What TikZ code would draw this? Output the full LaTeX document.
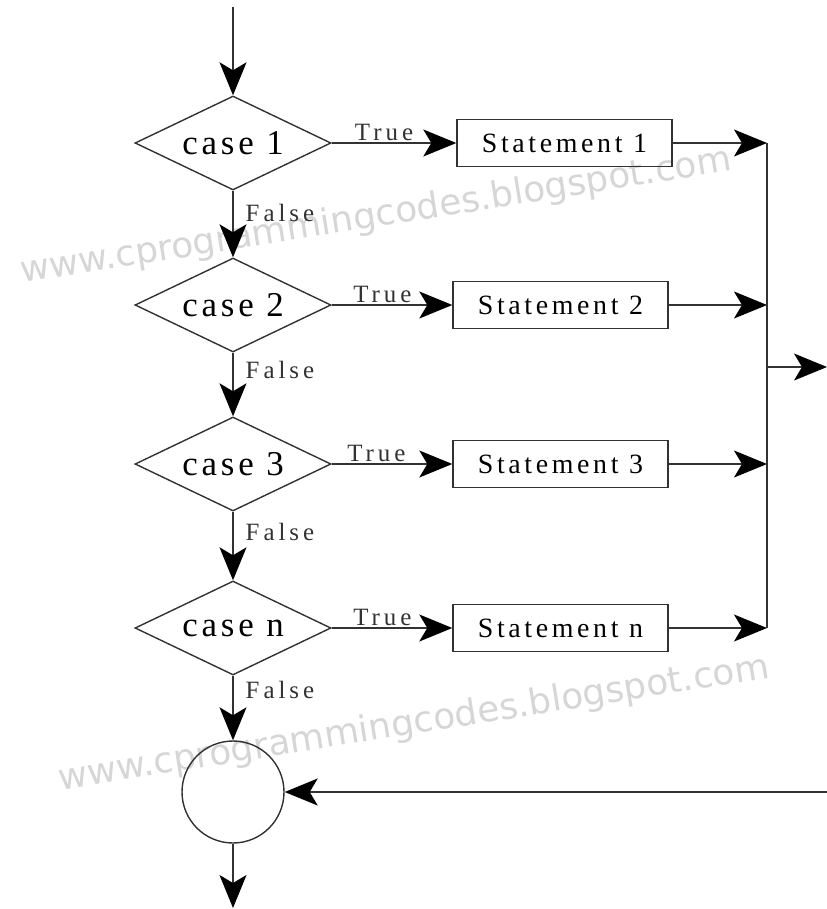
\documentclass[tikz,border=0pt]{standalone}
\usepackage{fontspec}
\setmainfont{Liberation Serif}
\newfontfamily\casefont[LetterSpace=11]{Liberation Serif}
\newfontfamily\stmtfont[LetterSpace=13]{Liberation Serif}
\newfontfamily\tffont[LetterSpace=16]{Liberation Serif}
\newfontfamily\markfont{DejaVu Sans}
\usetikzlibrary{arrows.meta,shapes.geometric}
\definecolor{ink}{RGB}{50,50,50}
\definecolor{wmark}{RGB}{214,214,214}
\begin{document}
\begin{tikzpicture}[x=1bp,y=-1bp,
  line/.style={draw=ink,line width=1.4bp},
  arr/.style={line,-{Stealth[length=33bp,width=27bp,inset=8bp,fill=black,color=black]}},
  decision/.style={shape=diamond,draw=ink,line width=1.4bp,minimum width=196bp,
    minimum height=94bp,inner sep=0pt,aspect=2.1,
    font=\casefont\fontsize{35}{35}\selectfont},
  stmtbox/.style={shape=rectangle,draw=ink,line width=1.4bp,minimum width=215bp,
    minimum height=47bp,inner sep=0pt,font=\stmtfont\fontsize{28}{28}\selectfont},
  joinpt/.style={shape=circle,draw=ink,line width=1.4bp,minimum size=102bp,inner sep=0pt},
  truelbl/.style={font=\tffont\fontsize{25}{25}\selectfont,text=ink,anchor=south,inner sep=2bp},
  falselbl/.style={font=\tffont\fontsize{25}{25}\selectfont,text=ink,anchor=west,inner sep=0pt,xshift=12bp},
  wm/.style={font=\markfont\fontsize{36}{36}\selectfont,text=wmark,rotate=9}]
\useasboundingbox (0,0) rectangle (827,909);

% watermark text
\node[wm] (wmA) at (376,217) {www.cprogrammingcodes.blogspot.com};
\node[wm] (wmB) at (414,724) {www.cprogrammingcodes.blogspot.com};

% decisions
\node[decision] (d1) at (233,143) {case 1};
\node[decision] (d2) at (233,305) {case 2};
\node[decision] (d3) at (233,464) {case 3};
\node[decision] (dn) at (233,628) {case n};

% statements
\node[stmtbox] (s1) at (564.5,143) {Statement 1};
\node[stmtbox] (s2) at (560.5,305) {Statement 2};
\node[stmtbox] (s3) at (560.5,464) {Statement 3};
\node[stmtbox] (sn) at (560.5,628) {Statement n};

% connector circle
\node[joinpt] (c) at (233,792) {};

% free ends and junctions
\coordinate (top) at (233,7);
\coordinate (bot) at (233,908);
\coordinate (j1) at (767,143);
\coordinate (j2) at (767,305);
\coordinate (j3) at (767,464);
\coordinate (jn) at (767,628);
\coordinate (jo) at (767,367);
\coordinate (out) at (827,367);
\coordinate (ret) at (827,792);

% flow down the cases
\draw[arr] (top) -- (d1.north);
\draw[arr] (d1.south) -- node[falselbl,pos=0.34] (f1) {False} (d2.north);
\draw[arr] (d2.south) -- node[falselbl,pos=0.27] (f2) {False} (d3.north);
\draw[arr] (d3.south) -- node[falselbl,pos=0.29] (f3) {False} (dn.north);
\draw[arr] (dn.south) -- node[falselbl,pos=0.22] (fn) {False} (c.north);
\draw[arr] (c.south) -- (bot);

% true branches
\draw[arr] (d1.east) -- node[truelbl,pos=0.42] (t1) {True} (s1.west);
\draw[arr] (d2.east) -- node[truelbl,pos=0.42] (t2) {True} (s2.west);
\draw[arr] (d3.east) -- node[truelbl,pos=0.37] (t3) {True} (s3.west);
\draw[arr] (dn.east) -- node[truelbl,pos=0.42] (tn) {True} (sn.west);

% statements join the exit line
\draw[arr] (s1.east) -- (j1);
\draw[arr] (s2.east) -- (j2);
\draw[arr] (s3.east) -- (j3);
\draw[arr] (sn.east) -- (jn);
\draw[line] (j1) -- (jn);
\draw[arr] (jo) -- (out);
\draw[arr] (ret) -- (c.east);
\end{tikzpicture}
\end{document}
